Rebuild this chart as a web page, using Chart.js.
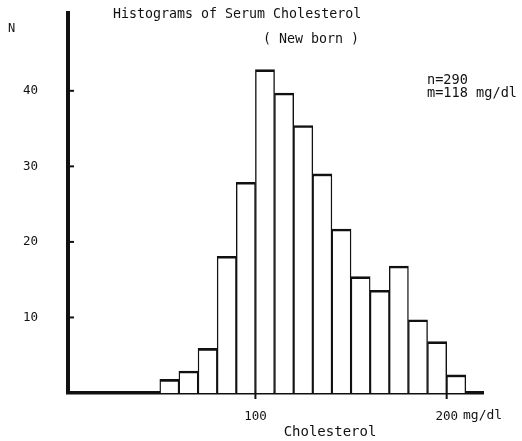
<!DOCTYPE html>
<html>
<head>
<meta charset="utf-8">
<script src="https://cdn.jsdelivr.net/npm/chart.js@4.4.0/dist/chart.umd.min.js"></script>
<style>
  body { margin: 0; background: #fff; }
  canvas { display: block; }
</style>
</head>
<body>
<canvas id="myChart" width="522" height="441"></canvas>
<script>
// bins of 10 mg/dl, start value of each bin
const binStart = [50, 60, 70, 80, 90, 100, 110, 120, 130, 140, 150, 160, 170, 180, 190, 200];
// counts
const counts = [1.8, 2.9, 5.9, 18.1, 27.9, 42.8, 39.7, 35.4, 29, 21.7, 15.4, 13.6, 16.8, 9.7, 6.8, 2.4];
const xTicks = [100, 200];
const yTicks = [10, 20, 30, 40];

const FONT = '"DejaVu Sans Mono", "Liberation Mono", monospace';
const INK = '#111';

// extra texts + inward tick marks
const notes = {
  id: 'notes',
  afterDraw(chart) {
    const ctx = chart.ctx;
    const xs = chart.scales.x;
    const ys = chart.scales.y;
    const area = chart.chartArea;
    ctx.save();
    ctx.strokeStyle = INK;
    ctx.lineWidth = 2;
    yTicks.forEach((v) => {
      const y = ys.getPixelForValue(v);
      ctx.beginPath();
      ctx.moveTo(area.left, y);
      ctx.lineTo(area.left + 6, y);
      ctx.stroke();
    });
    xTicks.forEach((v) => {
      const x = xs.getPixelForValue(v);
      ctx.beginPath();
      ctx.moveTo(x, area.bottom);
      ctx.lineTo(x, area.bottom + 6);
      ctx.stroke();
    });

    ctx.fillStyle = INK;
    ctx.textBaseline = 'middle';
    ctx.textAlign = 'left';
    ctx.font = '12px ' + FONT;
    ctx.fillText('N', 8, 29);
    ctx.font = '13.3px ' + FONT;
    ctx.fillText('Histograms of Serum Cholesterol', 113, 15);
    ctx.fillText('( New born )', 263, 40);
    ctx.font = '13.6px ' + FONT;
    ctx.fillText('n=290', 427, 80);
    ctx.fillText('m=118 mg/dl', 427, 93);
    ctx.font = '13px ' + FONT;
    ctx.fillText('mg/dl', 463, 416);
    ctx.font = '14px ' + FONT;
    ctx.textAlign = 'center';
    ctx.fillText('Cholesterol', 330, 432);
    ctx.restore();
  }
};

function mainEvent() {
  const chartTarget = document.querySelector('#myChart');

  const data = {
    datasets: [{
      label: 'N',
      data: binStart.map((b, i) => ({ x: b + 5, y: counts[i] })),
      backgroundColor: '#fff',
      borderColor: INK,
      borderWidth: { top: 2.6, left: 1.4, right: 1.4, bottom: 0 },
      borderSkipped: 'bottom',
      barPercentage: 1,
      categoryPercentage: 1
    }]
  };

  const config = {
    type: 'bar',
    data: data,
    options: {
      responsive: false,
      animation: false,
      layout: {
        padding: { top: 13, right: 39, left: 0, bottom: 0 }
      },
      plugins: {
        legend: { display: false },
        tooltip: { enabled: false }
      },
      scales: {
        x: {
          type: 'linear',
          offset: false,
          min: 2,
          max: 219,
          afterBuildTicks: (s) => { s.ticks = xTicks.map((v) => ({ value: v })); },
          afterFit: (s) => { s.height = 48; s.paddingLeft = 0; s.paddingRight = 0; },
          grid: { display: false, drawTicks: false, offset: false },
          border: { display: true, color: INK, width: 3.5 },
          ticks: {
            color: INK,
            padding: 16,
            maxRotation: 0,
            font: { family: FONT, size: 12.5 }
          }
        },
        y: {
          min: 0,
          max: 50.3,
          afterBuildTicks: (s) => { s.ticks = yTicks.map((v) => ({ value: v })); },
          afterFit: (s) => { s.width = 68; s.paddingTop = 0; s.paddingBottom = 0; },
          grid: { display: false, drawTicks: false },
          border: { display: true, color: INK, width: 4 },
          ticks: {
            color: INK,
            padding: 30,
            font: { family: FONT, size: 12.5 }
          }
        }
      }
    },
    plugins: [notes]
  };

  return new Chart(chartTarget, config);
}

document.addEventListener('DOMContentLoaded', () => mainEvent());
</script>
</body>
</html>
